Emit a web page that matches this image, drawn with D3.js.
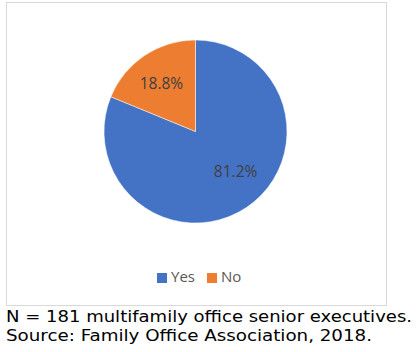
<!DOCTYPE html>
<html>
<head>
<meta charset="utf-8">
<script src="https://cdn.jsdelivr.net/npm/d3@7"></script>
<style>
  body { margin: 0; background: #fff; }
</style>
</head>
<body>
<div id="chart"></div>
<script>
// Share of respondents
var answers = ['Yes', 'No'];
var shares = [81.2, 18.8];
var answerColor = {
  'Yes' : '#4472C4',
  'No' : '#ED7D31'
};
var notes = [
  'N = 181 multifamily office senior executives.',
  'Source: Family Office Association, 2018.'
];

var width = 416, height = 352;

var svg = d3.select('#chart').append('svg')
    .attr('width', width)
    .attr('height', height);

// chart frame
svg.append('rect')
    .attr('x', 6.5)
    .attr('y', 2.5)
    .attr('width', 380)
    .attr('height', 303)
    .attr('fill', '#fff')
    .attr('stroke', '#d9d9d9')
    .attr('stroke-width', 1);

var data = answers.map(function(a, i) { return {key: a, value: shares[i]}; });

var cx = 195.5, cy = 131.5, radius = 91.5;

var pie = d3.pie()
    .sort(null)
    .value(function(d) { return d.value; });

var arc = d3.arc()
    .innerRadius(0)
    .outerRadius(radius);

var labelArc = d3.arc()
    .innerRadius(radius * 0.63)
    .outerRadius(radius * 0.63);

// excel nudges the big slice's label a bit
var labelNudge = {
  'Yes' : [8, -8],
  'No' : [-2, 0]
};

var g = svg.append('g')
    .attr('transform', 'translate(' + cx + ',' + cy + ')');

var slices = g.selectAll('g')
    .data(pie(data))
    .enter().append('g');

slices.append('path')
    .attr('d', arc)
    .attr('fill', function(d) { return answerColor[d.data.key]; })
    .attr('stroke', '#fff')
    .attr('stroke-width', 0.5);

slices.append('text')
    .attr('transform', function(d) {
      var c = labelArc.centroid(d), n = labelNudge[d.data.key];
      return 'translate(' + (c[0] + n[0]) + ',' + (c[1] + n[1]) + ')';
    })
    .attr('text-anchor', 'middle')
    .attr('dy', '0.35em')
    .attr('font-family', 'Open Sans, sans-serif')
    .attr('font-size', 15.5)
    .attr('fill', '#404040')
    .text(function(d) { return d.data.value.toFixed(1) + '%'; });

// legend
var legend = svg.append('g')
    .attr('font-family', 'Open Sans, sans-serif')
    .attr('font-size', 15)
    .attr('fill', '#595959')
    .selectAll('g')
    .data(answers)
    .enter().append('g')
    .attr('transform', function(d, i) { return 'translate(' + (157 + i * 50) + ',273)'; });

legend.append('rect')
    .attr('width', 10)
    .attr('height', 10)
    .attr('fill', function(d) { return answerColor[d]; });

legend.append('text')
    .attr('x', 14)
    .attr('y', 8.5)
    .text(function(d) { return d; });

// notes under the chart (Verdana look: stretched DejaVu)
var noteWidths = [406, 366];
svg.append('g')
    .attr('font-family', 'DejaVu Sans, Verdana, sans-serif')
    .attr('font-size', 16)
    .attr('fill', '#000')
    .selectAll('text')
    .data(notes)
    .enter().append('text')
    .attr('x', 6)
    .attr('y', function(d, i) { return 322 + i * 19; })
    .attr('textLength', function(d, i) { return noteWidths[i]; })
    .attr('lengthAdjust', 'spacingAndGlyphs')
    .text(function(d) { return d; });
</script>
</body>
</html>
